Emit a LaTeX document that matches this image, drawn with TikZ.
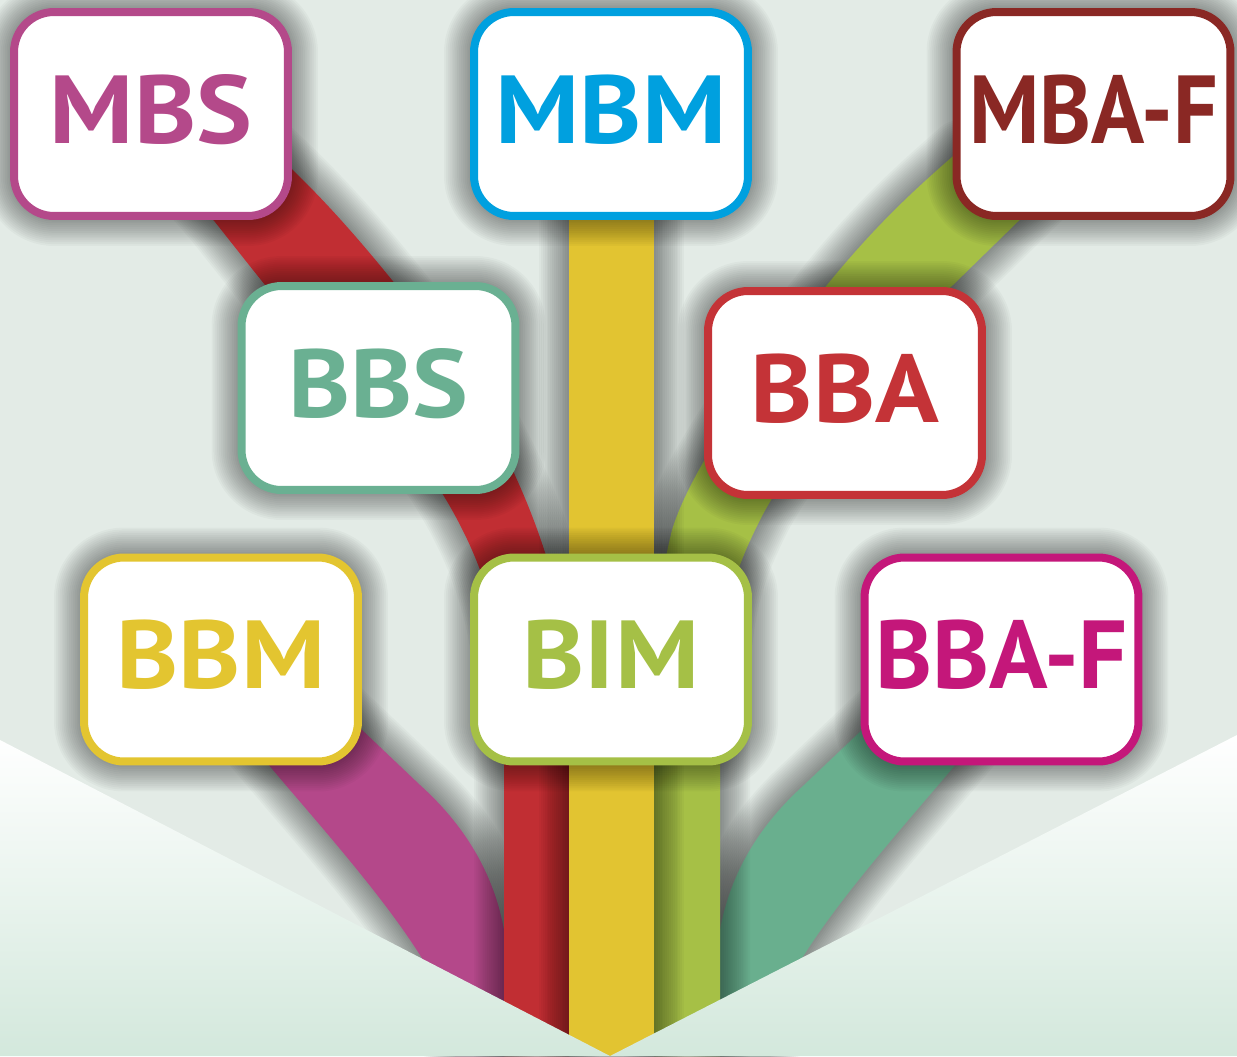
\documentclass[tikz,border=0pt]{standalone}
\usepackage{fontspec}
\setmainfont{PT Sans}
\usepackage{graphicx}
\usepackage{tikz}
\definecolor{PaperGrey}{HTML}{E3EBE6}
\definecolor{FloorGreen}{HTML}{D3E8DC}
\definecolor{TagMagenta}{HTML}{B4498A}
\definecolor{TagCyan}{HTML}{00A0DF}
\definecolor{TagMaroon}{HTML}{8A2824}
\definecolor{TagTeal}{HTML}{6AB092}
\definecolor{TagRed}{HTML}{C43337}
\definecolor{TagYellow}{HTML}{E3C530}
\definecolor{TagLime}{HTML}{A5C046}
\definecolor{TagPink}{HTML}{C4177A}
\definecolor{BandMagenta}{HTML}{B4488A}
\definecolor{BandRed}{HTML}{C12E33}
\definecolor{BandYellow}{HTML}{E2C431}
\definecolor{BandLime}{HTML}{A6C046}
\definecolor{BandTeal}{HTML}{69AF8E}

\newcommand{\widen}[2][1.09]{\scalebox{#1}[1]{#2}}

\newcommand{\bandMagenta}{(455,1056) -- (440,990) .. controls (410,930) and (350,860) .. (290,790) -- (205,690)
  -- (320,690) -- (420,785) .. controls (470,830) and (495,880) .. (504,930) -- (504,1056) -- cycle}
\newcommand{\bandTeal}{(769,1056) -- (784,990) .. controls (814,930) and (874,860) .. (934,790) -- (1019,690)
  -- (904,690) -- (804,785) .. controls (754,830) and (729,880) .. (720,930) -- (720,1056) -- cycle}
\newcommand{\bandRed}{(504,1056) -- (504,700) .. controls (504,580) and (445,470) .. (340,370)
  .. controls (305,337) and (265,285) .. (215,222) -- (170,170)
  -- (250,130) .. controls (300,175) and (340,215) .. (400,290)
  .. controls (490,400) and (569,560) .. (569,690) -- (569,1056) -- cycle}
\newcommand{\bandLime}{(654,1056) -- (654,700) .. controls (654,620) and (660,580) .. (672,530)
  .. controls (690,470) and (760,370) .. (827,285) .. controls (880,220) and (920,185) .. (960,150)
  -- (1040,200) -- (953,285) .. controls (880,350) and (790,460) .. (760,520)
  .. controls (735,570) and (720,610) .. (720,700) -- (720,1056) -- cycle}

\begin{document}
\begin{tikzpicture}[x=0.02cm,y=-0.02cm,
    halo/.style={preaction={draw=black,draw opacity=0.026,line width=#1*0.075cm,line join=round}},
    soft shadow/.style={halo/.list={1,...,16}},
    band/.style={fill=#1,soft shadow},
    tag/.style={draw=#1,text=#1,fill=white,line width=0.16cm,rounded corners=0.8cm,
      minimum width=5.48cm,minimum height=4.08cm,inner sep=0pt,text depth=0.2cm,
      font=\fontsize{55}{55}\selectfont\bfseries,soft shadow}]
  \useasboundingbox (0,0) rectangle (1237,1056);
  \fill[PaperGrey] (0,0) rectangle (1237,1056);

  \fill[band=BandMagenta] \bandMagenta;
  \fill[band=BandTeal] \bandTeal;
  \fill[band=BandRed] \bandRed;
  \fill[band=BandLime] \bandLime;
  \fill[band=BandYellow] (569,200) rectangle (654,1056);

  \shade[top color=white,bottom color=FloorGreen]
    (0,740) -- (610,1056) -- (1237,735) -- (1237,1056) -- (0,1056) -- cycle;

  \node[tag=TagMagenta] (mbs) at (151,114) {\widen{MBS}};
  \node[tag=TagCyan] (mbm) at (611,114) {\widen{MBM}};
  \node[tag=TagMaroon] (mbaf) at (1093.5,114) {\widen[0.91]{MBA-F}};
  \node[tag=TagTeal] (bbs) at (378.5,388) {\widen{BBS}};
  \node[tag=TagRed] (bba) at (845,393) {\widen{BBA}};
  \node[tag=TagYellow] (bbm) at (221,659.5) {\widen{BBM}};
  \node[tag=TagLime] (bim) at (611,659.5) {\widen{BIM}};
  \node[tag=TagPink] (bbaf) at (1001.5,659.5) {\widen[1.0]{BBA-F}};
\end{tikzpicture}
\end{document}
